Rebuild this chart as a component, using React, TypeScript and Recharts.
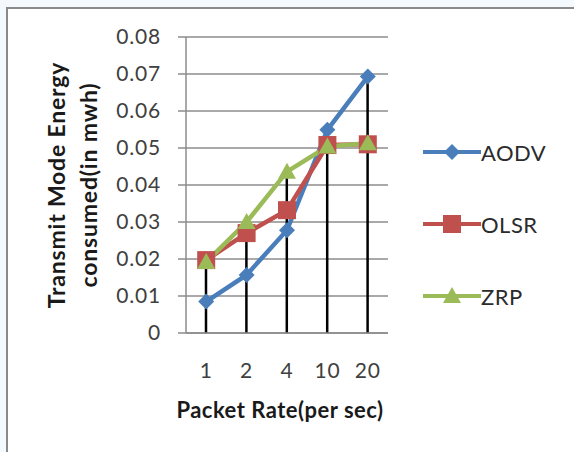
import { ComposedChart, Line, Bar, XAxis, YAxis, CartesianGrid, Legend, Label } from "recharts"

const packetRates = ["1", "2", "4", "10", "20"]
const aodv = [0.0085, 0.0157, 0.0278, 0.0549, 0.0693]
const olsr = [0.0197, 0.027, 0.0332, 0.0508, 0.051]
const zrp = [0.0192, 0.03, 0.0436, 0.0504, 0.0513]
const yTicks = [0, 0.01, 0.02, 0.03, 0.04, 0.05, 0.06, 0.07, 0.08]

const data = packetRates.map((rate, i) => ({
  rate,
  AODV: aodv[i],
  OLSR: olsr[i],
  ZRP: zrp[i],
  peak: Math.max(aodv[i], olsr[i], zrp[i]),
}))

const BLUE = "#4a7ebb"
const RED = "#c0504d"
const GREEN = "#9bbb59"
const FONT = "Lato, 'Open Sans', sans-serif"

function Marker({ kind, cx, cy, color }: { kind: string; cx: number; cy: number; color: string }) {
  if (kind === "diamond") {
    const r = 8
    return <path d={`M${cx},${cy - r}L${cx + r},${cy}L${cx},${cy + r}L${cx - r},${cy}Z`} fill={color} />
  }
  if (kind === "square") {
    return <rect x={cx - 9} y={cy - 9} width={18} height={18} fill={color} />
  }
  return <path d={`M${cx},${cy - 9}L${cx + 9},${cy + 7}L${cx - 9},${cy + 7}Z`} fill={color} />
}

const dotFor = (kind: string, color: string) => (p: any) =>
  <Marker key={`${kind}-${p.index}`} kind={kind} cx={p.cx} cy={p.cy} color={color} />

const markerKind: Record<string, string> = { AODV: "diamond", OLSR: "square", ZRP: "triangle" }

function DropLine(p: any) {
  const x = p.x + p.width / 2
  return <line x1={x} x2={x} y1={p.y} y2={p.y + p.height} stroke="#000" strokeWidth={2.5} />
}

function LegendBox({ payload }: any) {
  const items = (payload || []).filter((e: any) => markerKind[e.value])
  return (
    <div style={{ fontFamily: FONT }}>
      {items.map((e: any) => (
        <div key={e.value} style={{ display: "flex", alignItems: "center", height: 72 }}>
          <svg width={58} height={24}>
            <line x1={0} x2={58} y1={12} y2={12} stroke={e.color} strokeWidth={4} />
            <Marker kind={markerKind[e.value]} cx={29} cy={12} color={e.color} />
          </svg>
          <span style={{ fontSize: 22, color: "#2b2b2b", letterSpacing: 0.5 }}>{e.value}</span>
        </div>
      ))}
    </div>
  )
}

function YTitle(props: any) {
  const cx = 65
  const cy = 185
  return (
    <text
      x={cx}
      y={cy}
      transform={`rotate(-90, ${cx}, ${cy})`}
      textAnchor="middle"
      fontFamily={FONT}
      fontWeight="bold"
      fontSize={23}
      letterSpacing={0.8}
      fill="#1a1a1a"
    >
      <tspan x={cx} dy={0}>Transmit Mode Energy</tspan>
      <tspan x={cx} dy={32}>consumed(in mwh)</tspan>
    </text>
  )
}

function XTitle(props: any) {
  return (
    <text x={280} y={418} textAnchor="middle" fontFamily={FONT} fontWeight="bold" fontSize={22} letterSpacing={0.5} fill="#1a1a1a">
      Packet Rate(per sec)
    </text>
  )
}

const tickStyle = { fill: "#404040", fontSize: 21, fontFamily: FONT, letterSpacing: 0.8 }

export default function App() {
  return (
    <div style={{ position: "absolute", left: 0, top: 0, width: 574, height: 452, background: "#f3f9fc" }}>
      <div
        style={{
          position: "absolute",
          left: 6,
          top: 7,
          width: 568,
          height: 445,
          background: "#fff",
          borderLeft: "2px solid #8a8a8a",
          borderTop: "2px solid #8a8a8a",
          boxSizing: "border-box",
        }}
      />
      <div style={{ position: "absolute", left: 0, top: 0 }}>
        <ComposedChart width={574} height={452} data={data} margin={{ top: 37, right: 186, bottom: 0, left: 0 }}>
          <CartesianGrid vertical={false} stroke="#8c8c8c" strokeWidth={1.5} />
          <XAxis
            dataKey="rate"
            height={119}
            axisLine={{ stroke: "#8c8c8c", strokeWidth: 1.5 }}
            tickLine={false}
            tickMargin={24}
            tick={tickStyle}
          >
            <Label content={XTitle} />
          </XAxis>
          <YAxis
            width={186}
            domain={[0, 0.08]}
            ticks={yTicks}
            interval={0}
            tickFormatter={(v: number) => (v === 0 ? "0" : v.toFixed(2))}
            axisLine={{ stroke: "#8c8c8c", strokeWidth: 1.5 }}
            tickLine={{ stroke: "#8c8c8c", strokeWidth: 1.5 }}
            tickSize={8}
            tickMargin={17}
            tick={tickStyle}
          >
            <Label content={YTitle} />
          </YAxis>
          <Legend
            layout="horizontal"
            verticalAlign="middle"
            align="center"
            content={LegendBox}
            wrapperStyle={{ left: 423, top: 116, width: 150 }}
          />
          <Line dataKey="AODV" stroke={BLUE} strokeWidth={4.5} dot={dotFor("diamond", BLUE)} isAnimationActive={false} />
          <Line dataKey="OLSR" stroke={RED} strokeWidth={4.5} dot={dotFor("square", RED)} isAnimationActive={false} />
          <Line dataKey="ZRP" stroke={GREEN} strokeWidth={4.5} dot={dotFor("triangle", GREEN)} isAnimationActive={false} />
          <Bar dataKey="peak" barSize={4} shape={DropLine} legendType="none" isAnimationActive={false} />
        </ComposedChart>
      </div>
    </div>
  )
}
